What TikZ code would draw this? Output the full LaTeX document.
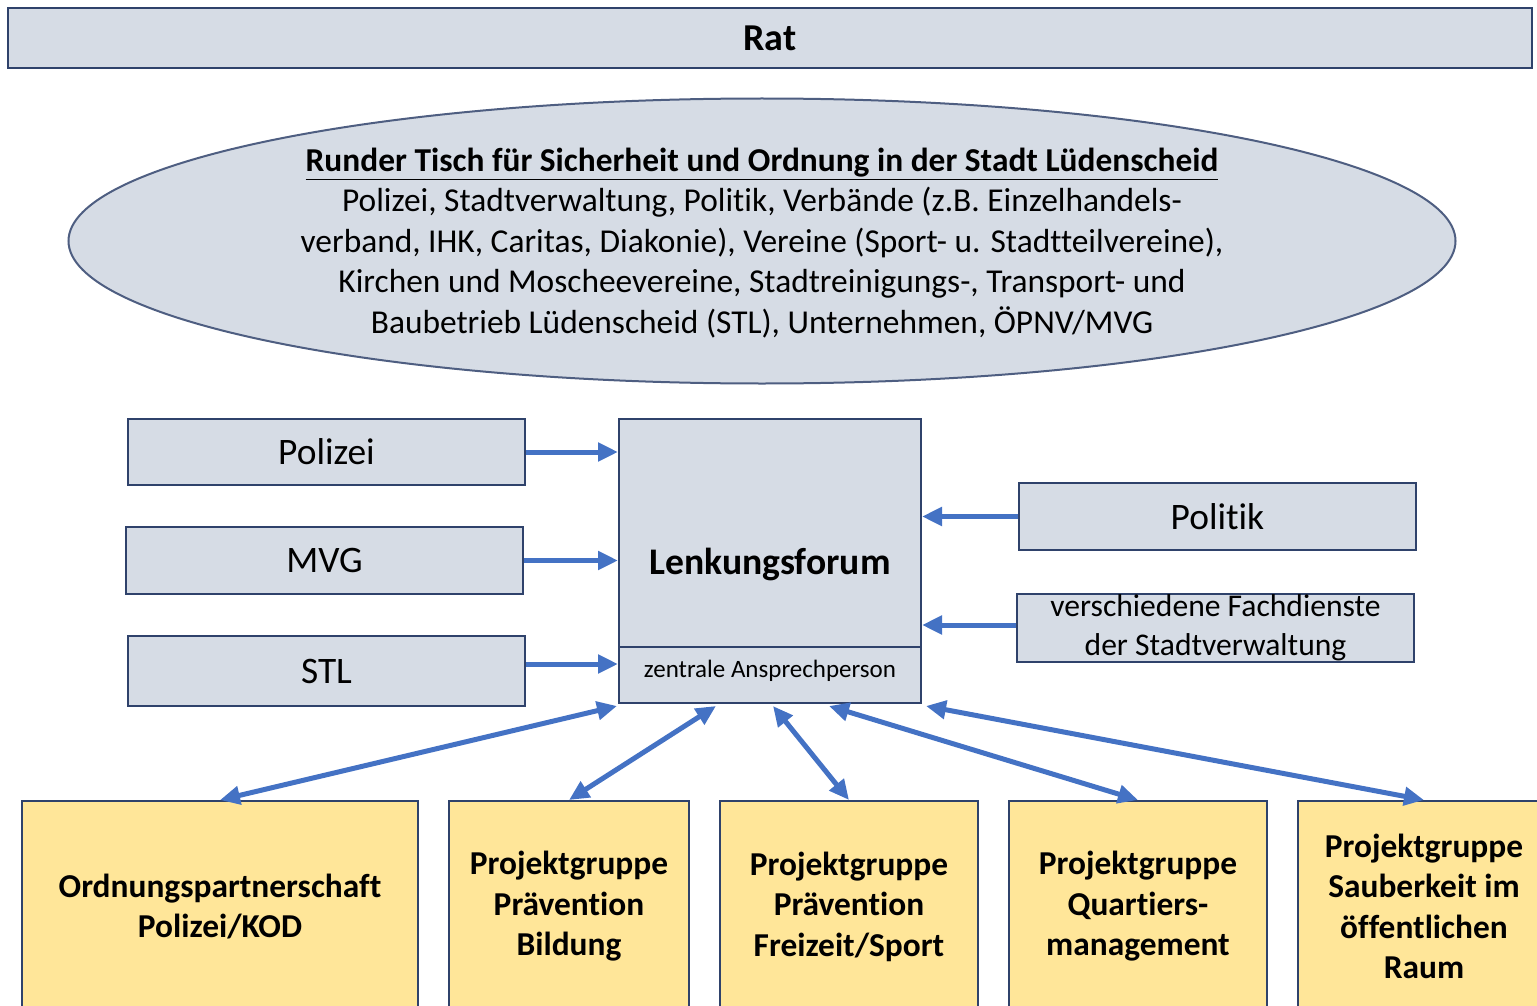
\documentclass[tikz,border=0pt]{standalone}
\usepackage{fontspec}
\setmainfont{Carlito}[Ligatures=NoCommon]
\usepackage{tikz}
\usetikzlibrary{calc,arrows.meta,shapes.geometric,positioning}
\definecolor{boxgrey}{RGB}{214,220,229}
\definecolor{boxline}{RGB}{47,66,107}
\definecolor{arrowblue}{RGB}{68,114,196}
\definecolor{groupyellow}{RGB}{255,230,153}
\tikzset{link/.style={arrowblue,line width=2.5pt}}

\begin{document}
\begin{tikzpicture}[x=0.5pt,y=-0.5pt,>={Triangle[length=10pt,width=9pt]}]

\tikzset{greybox/.style={fill=boxgrey,draw=boxline,line width=1pt,inner sep=0pt,shape=rectangle,font=\fontsize{18.7}{22}\selectfont},
groupbox/.style={fill=groupyellow,draw=boxline,line width=1pt,inner sep=0pt,minimum height=105.5pt,align=center,font=\bfseries\fontsize{16.7}{20.25}\selectfont}}

% Frame
\useasboundingbox (0,0) rectangle (1537,1006);
\clip (0,0) rectangle (1537,1006);

% Rat
\node[greybox,minimum width=762pt,minimum height=30pt,font=\bfseries\fontsize{19}{22}\selectfont] (rat) at (770,38) {Rat};

% Runder Tisch
\node[ellipse,fill=boxgrey,draw=boxline!85,line width=1pt,minimum width=693.5pt,minimum height=142.5pt,inner sep=0pt] (tisch) at (762,241) {};
\node[align=center,font=\fontsize{16.7}{20.25}\selectfont] (tischtext) at ($(tisch.center)+(0,2)$) {\textbf{\underline{Runder Tisch für Sicherheit und Ordnung in der Stadt Lüdenscheid}}\\
Polizei, Stadtverwaltung, Politik, Verbände (z.B. Einzelhandels-\\
verband, IHK, Caritas, Diakonie), Vereine (Sport- u. Stadtteilvereine),\\
Kirchen und Moscheevereine, Stadtreinigungs-, Transport- und\\
Baubetrieb Lüdenscheid (STL), Unternehmen, ÖPNV/MVG};

% Lenkungsforum
\node[greybox,minimum width=151pt,minimum height=142pt] (lenkung) at (770,561) {};
\node[font=\bfseries\fontsize{18.8}{22}\selectfont] (lenkungtext) at ($(lenkung.center)+(0,3)$) {Lenkungsforum};
\node[greybox,minimum width=151pt,minimum height=28pt,text depth=6pt,font=\fontsize{12.5}{14}\selectfont,anchor=south] (ansprech) at (lenkung.south) {zentrale Ansprechperson};

% Left partners
\node[greybox,minimum width=198.5pt,minimum height=33pt] (polizei) at (326.5,452) {Polizei};
\node[greybox,minimum width=198.5pt,minimum height=33.5pt] (mvg) at (324.5,560.5) {MVG};
\node[greybox,minimum width=198.5pt,minimum height=35pt] (stl) at (326.5,671) {STL};

% Right partners
\node[greybox,minimum width=198.5pt,minimum height=33.5pt] (politik) at (1217.5,516.5) {Politik};
\node[greybox,minimum width=198.5pt,minimum height=34pt,align=center,font=\fontsize{15.8}{19.5}\selectfont] (fach) at (1215.5,628) {verschiedene Fachdienste\\der Stadtverwaltung};

% Project groups
\node[groupbox,minimum width=198pt] (ordnung) at (220,906.5) {Ordnungspartnerschaft\\Polizei/KOD};
\node[groupbox,minimum width=120pt] (bildung) at (569,906.5) {Projektgruppe\\Prävention\\Bildung};
\node[groupbox,minimum width=129pt] (freizeit) at (849,906.5) {Projektgruppe\\Prävention\\Freizeit/Sport};
\node[groupbox,minimum width=129pt] (quartier) at (1138,906.5) {Projektgruppe\\Quartiers-\\management};
\node[groupbox,minimum width=126pt] (sauberkeit) at (1424,906.5) {Projektgruppe\\Sauberkeit im\\öffentlichen\\Raum};

% Arrows into the Lenkungsforum
\draw[->,link] (polizei.east) -- (polizei.east -| lenkung.west);
\draw[->,link] (mvg.east) -- (mvg.east -| lenkung.west);
\draw[->,link] ($(stl.east)+(0,-7)$) -- ($(stl.east -| lenkung.west)+(0,-7)$);
\draw[->,link] (politik.west) -- (politik.west -| lenkung.east);
\draw[->,link] ($(fach.west)+(0,-3)$) -- ($(fach.west -| lenkung.east)+(0,-3)$);

% Arrows to the project groups
\draw[<->,link] ($(lenkung.south)+(-153,2)$) -- (ordnung.north);
\draw[<->,link] ($(lenkung.south)+(-54,2)$) -- (bildung.north);
\draw[<->,link] ($(lenkung.south)+(3,2)$) -- (freizeit.north);
\draw[<->,link] ($(lenkung.south)+(59,2)$) -- (quartier.north);
\draw[<->,link] ($(lenkung.south)+(156,2)$) -- (sauberkeit.north);

\end{tikzpicture}
\end{document}
